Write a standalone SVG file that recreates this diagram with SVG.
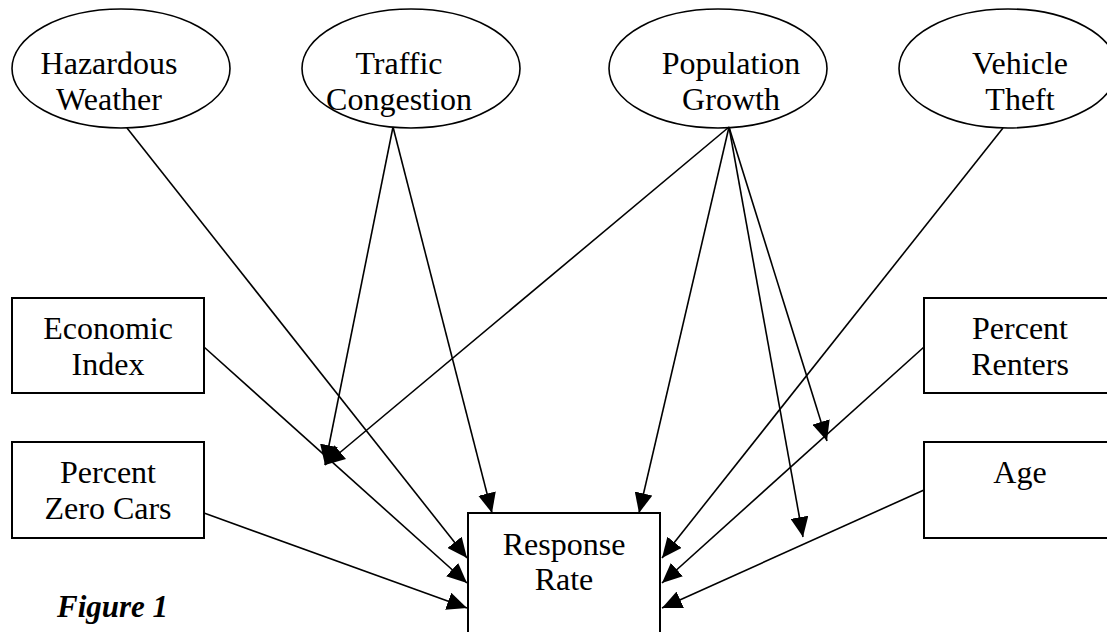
<svg xmlns="http://www.w3.org/2000/svg" width="1107" height="632" viewBox="0 0 1107 632">
<style>
.t{font-family:"Liberation Serif","Times New Roman",serif;font-size:32px;fill:#000;text-anchor:middle}
.fig{font-family:"Liberation Serif","Times New Roman",serif;font-size:31px;font-weight:bold;font-style:italic;fill:#000}
.el{fill:#fff;stroke:#000;stroke-width:1.6}
.bx{fill:#fff;stroke:#000;stroke-width:2}
.c{stroke:#000;stroke-width:1.6;fill:none;marker-end:url(#ah)}
</style>
<defs>
<marker id="ah" markerUnits="userSpaceOnUse" markerWidth="21" markerHeight="18" refX="20" refY="9" orient="auto">
<path d="M0,0 L20,9 L0,18 z" fill="#000"/>
</marker>
</defs>
<rect width="1107" height="632" fill="#fff"/>
<g id="n-hazardous">
<ellipse class="el" cx="121" cy="68.5" rx="109" ry="59.5"/>
<text class="t" x="109" y="74">Hazardous</text>
<text class="t" x="109" y="110">Weather</text>
</g>
<g id="n-traffic">
<ellipse class="el" cx="411" cy="68.5" rx="109" ry="59.5"/>
<text class="t" x="399" y="74">Traffic</text>
<text class="t" x="399" y="110">Congestion</text>
</g>
<g id="n-population">
<ellipse class="el" cx="718" cy="68.5" rx="109" ry="59.5"/>
<text class="t" x="731" y="74">Population</text>
<text class="t" x="731" y="110">Growth</text>
</g>
<g id="n-vehicle">
<ellipse class="el" cx="1008" cy="68.5" rx="109" ry="59.5"/>
<text class="t" x="1020" y="74">Vehicle</text>
<text class="t" x="1020" y="110">Theft</text>
</g>
<g id="n-economic">
<rect class="bx" x="12" y="298" width="192" height="95"/>
<text class="t" x="108" y="339">Economic</text>
<text class="t" x="108" y="375">Index</text>
</g>
<g id="n-zerocars">
<rect class="bx" x="12" y="442" width="192" height="96"/>
<text class="t" x="108" y="483">Percent</text>
<text class="t" x="108" y="519">Zero Cars</text>
</g>
<g id="n-renters">
<rect class="bx" x="924" y="298" width="192" height="95"/>
<text class="t" x="1020" y="339">Percent</text>
<text class="t" x="1020" y="375">Renters</text>
</g>
<g id="n-age">
<rect class="bx" x="924" y="442" width="192" height="96"/>
<text class="t" x="1020" y="483">Age</text>
</g>
<g id="n-response">
<rect class="bx" x="468" y="513" width="192" height="130"/>
<text class="t" x="564" y="555">Response</text>
<text class="t" x="564" y="590">Rate</text>
</g>
<g id="connectors">
<line class="c" x1="127" y1="128" x2="467" y2="558"/>
<line class="c" x1="204" y1="347" x2="467" y2="583"/>
<line class="c" x1="204" y1="513" x2="467" y2="608"/>
<line class="c" x1="393" y1="127" x2="325" y2="465"/>
<line class="c" x1="393" y1="127" x2="492" y2="513"/>
<line class="c" x1="729" y1="127" x2="325" y2="465"/>
<line class="c" x1="729" y1="127" x2="639" y2="513"/>
<line class="c" x1="729" y1="127" x2="827" y2="441"/>
<line class="c" x1="729" y1="127" x2="803" y2="537"/>
<line class="c" x1="1003" y1="128" x2="662" y2="558"/>
<line class="c" x1="924" y1="347" x2="662" y2="583"/>
<line class="c" x1="924" y1="490" x2="662" y2="608"/>
</g>
<text class="fig" x="57" y="617">Figure 1</text>
</svg>
